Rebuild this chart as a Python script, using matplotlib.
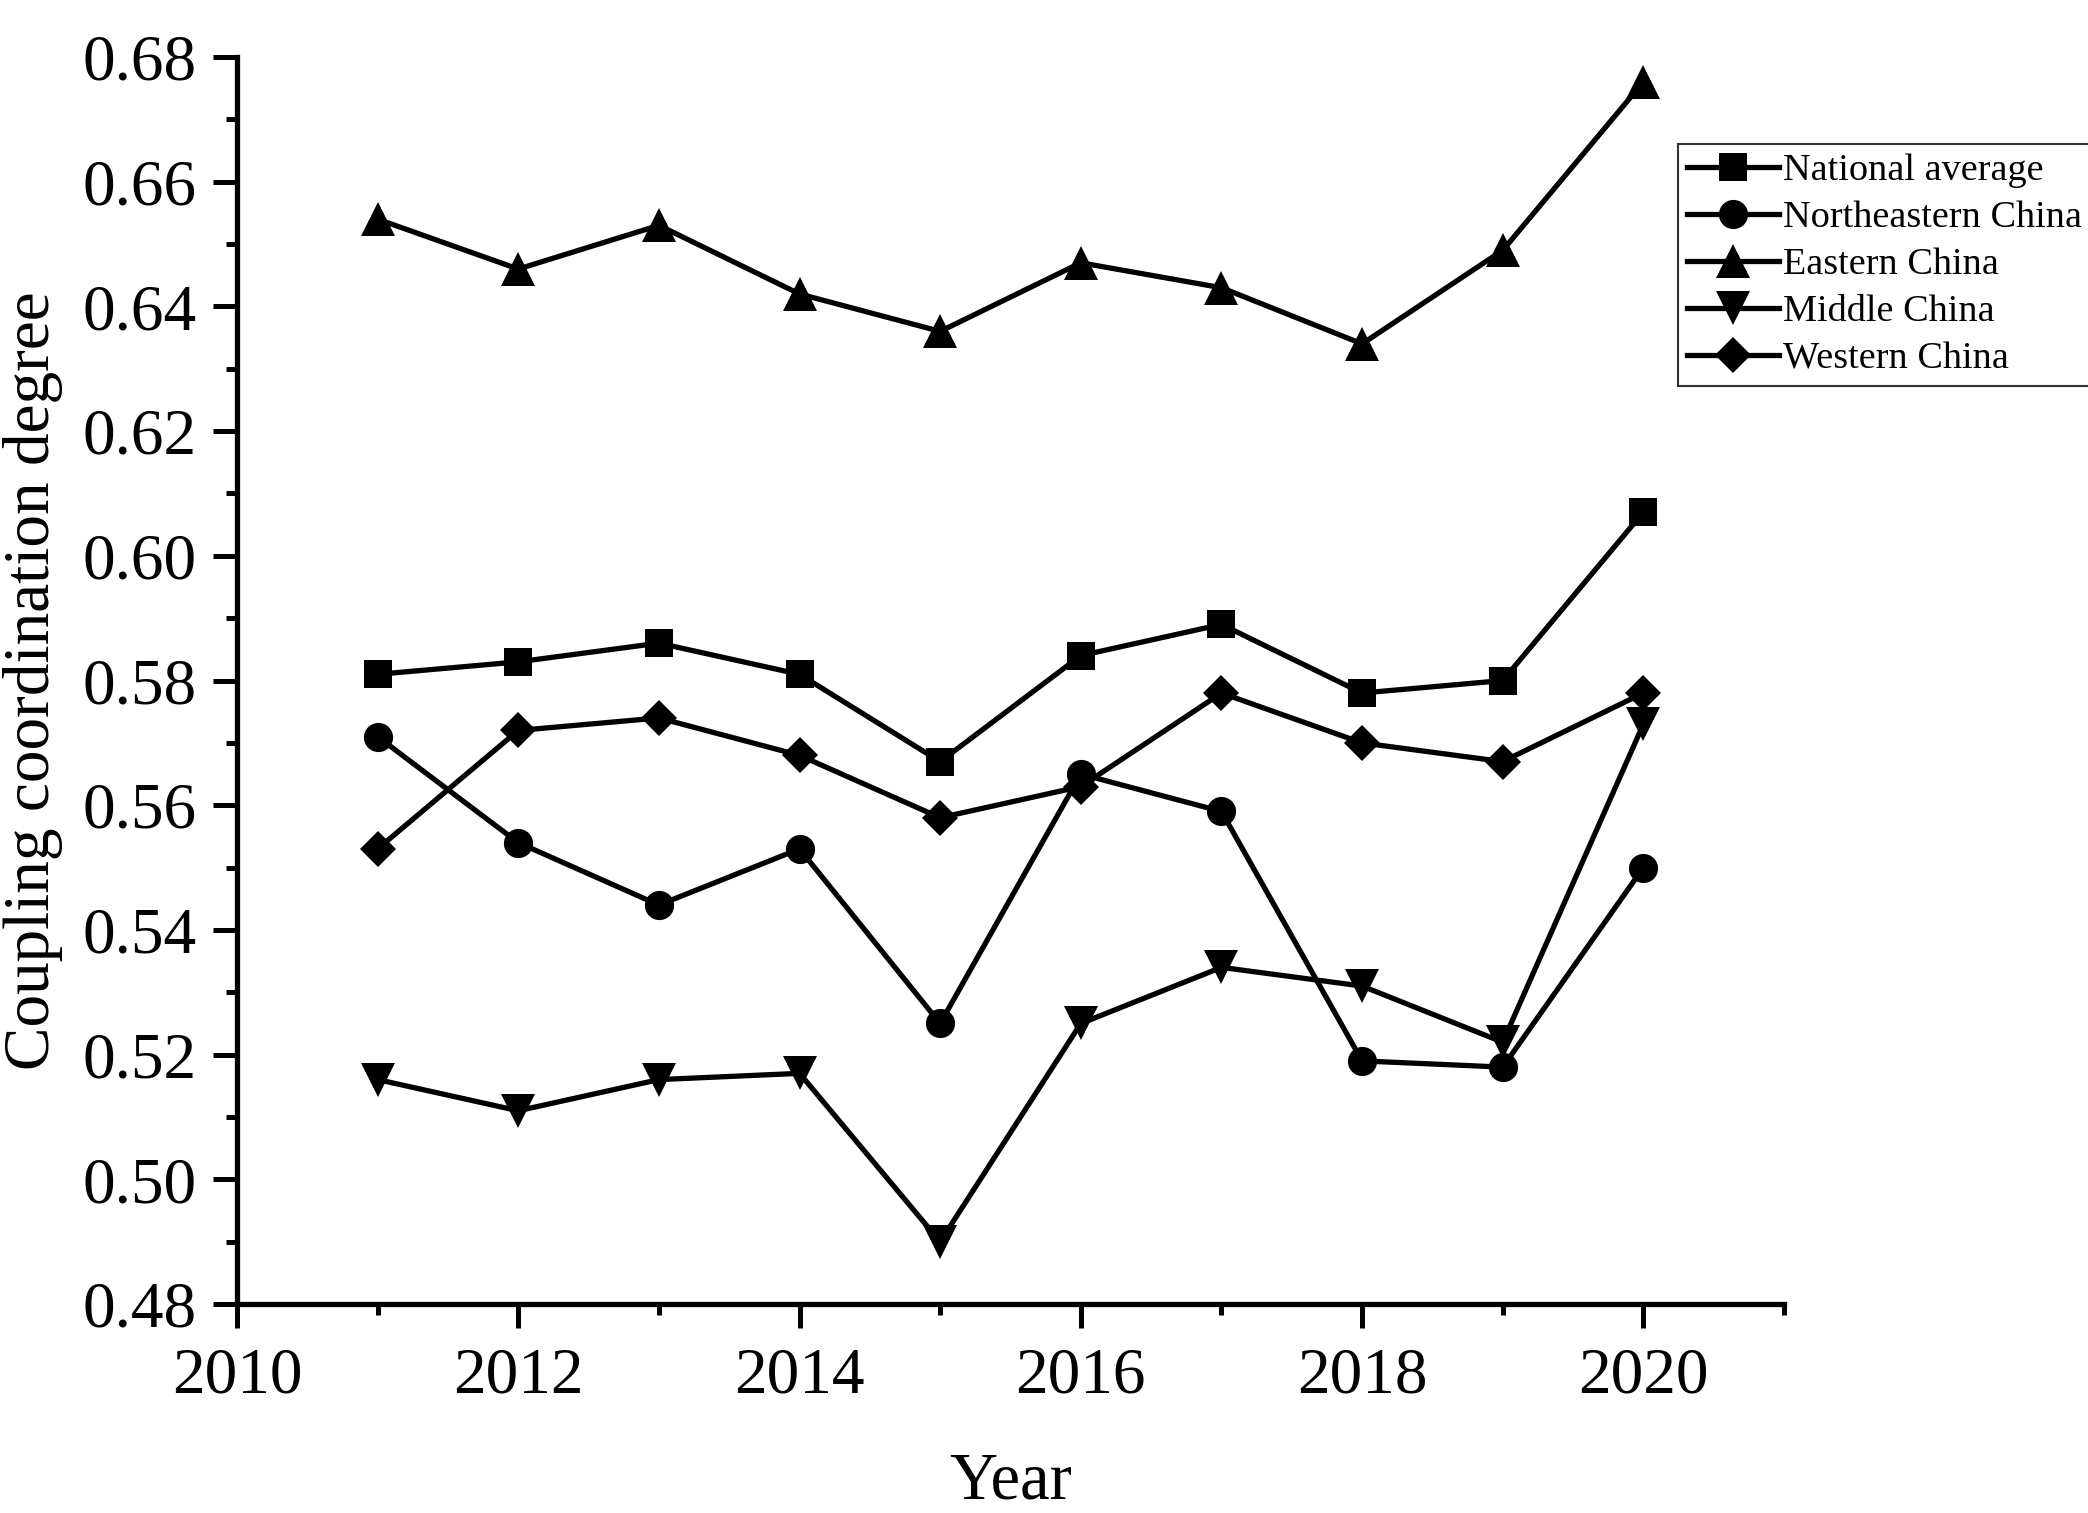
import matplotlib
matplotlib.use("Agg")
import matplotlib.pyplot as plt
from matplotlib.ticker import MultipleLocator

years = [2011, 2012, 2013, 2014, 2015, 2016, 2017, 2018, 2019, 2020]
national = [0.581, 0.583, 0.586, 0.581, 0.567, 0.584, 0.589, 0.578, 0.580, 0.607]
northeastern = [0.571, 0.554, 0.544, 0.553, 0.525, 0.565, 0.559, 0.519, 0.518, 0.550]
eastern = [0.654, 0.646, 0.653, 0.642, 0.636, 0.647, 0.643, 0.634, 0.649, 0.676]
middle = [0.516, 0.511, 0.516, 0.517, 0.490, 0.525, 0.534, 0.531, 0.522, 0.573]
western = [0.553, 0.572, 0.574, 0.568, 0.558, 0.563, 0.578, 0.570, 0.567, 0.578]

series = [
    ("National average", national, "s", 20),
    ("Northeastern China", northeastern, "o", 21),
    ("Eastern China", eastern, "^", 24),
    ("Middle China", middle, "v", 24),
    ("Western China", western, "D", 18),
]

plt.rcParams['font.family'] = ['Liberation Serif', 'DejaVu Serif']

fig = plt.figure(figsize=(20.88, 15.13), dpi=100)
ax = fig.add_axes([0.1135, 0.1381, 0.8544 - 0.1135, 0.9623 - 0.1381])

handles = []
for label, vals, mk, ms in series:
    h, = ax.plot(years, vals, color='black', lw=3.8, marker=mk, markersize=ms,
                 markeredgewidth=0, markerfacecolor='black', label=label, clip_on=False)
    handles.append(h)

ax.set_xlim(2010, 2021)
ax.set_ylim(0.48, 0.68)
ax.xaxis.set_major_locator(MultipleLocator(2))
ax.xaxis.set_minor_locator(MultipleLocator(1))
ax.yaxis.set_major_locator(MultipleLocator(0.02))
ax.yaxis.set_minor_locator(MultipleLocator(0.01))
ax.yaxis.set_major_formatter(plt.FuncFormatter(lambda v, p: f"{v:.2f}"))

for s in ['top', 'right']:
    ax.spines[s].set_visible(False)
for s in ['left', 'bottom']:
    ax.spines[s].set_linewidth(3.8)

ax.tick_params(axis='both', which='major', direction='out', length=17, width=3.6, labelsize=47)
ax.tick_params(axis='both', which='minor', direction='out', length=8, width=3.6)
ax.tick_params(axis='y', which='major', pad=12)
ax.tick_params(axis='x', which='major', pad=14)

ax.set_xlabel("Year", fontsize=48, labelpad=32)
ax.set_ylabel("Coupling coordination degree", fontsize=47, labelpad=14)

leg = fig.legend(handles=handles, loc='upper left', bbox_to_anchor=(0.8036, 0.9048),
                 fontsize=27.5, frameon=True, fancybox=False, edgecolor='black',
                 handlelength=2.4, handletextpad=0.1, borderpad=0.25, labelspacing=0.32,
                 borderaxespad=0, markerscale=1.0)
leg.get_frame().set_linewidth(1.5)

fig.savefig("out.png", dpi=100, facecolor='white')
